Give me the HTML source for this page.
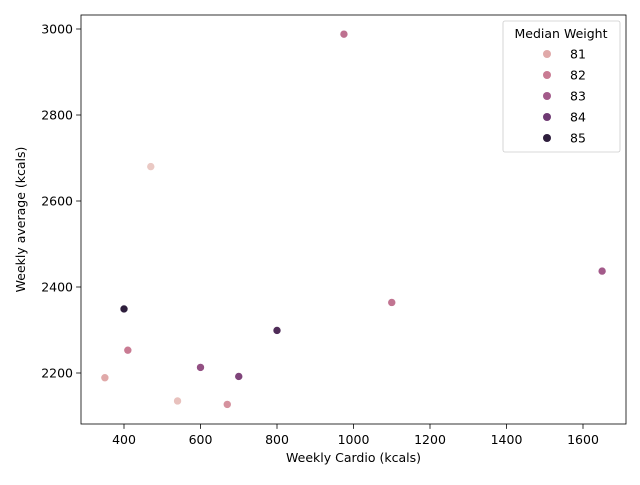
<!DOCTYPE html>
<html><head><meta charset="utf-8"><style>
body{margin:0;background:#fff;font-family:"Liberation Sans","DejaVu Sans",sans-serif;}
text{font-family:"DejaVu Sans","Liberation Sans",sans-serif;}
</style></head><body>
<svg id="chart" width="640" height="480" xmlns="http://www.w3.org/2000/svg"></svg>
<script>
const cardio=[975,470,1650,1100,400,800,410,600,700,350,540,670];
const avgKcal=[2988,2680,2437,2364,2349,2299,2253,2213,2192,2189,2135,2127];
const weight=[82.3,80.6,83,82.2,85,84.5,82,83.3,83.7,81,80.7,81.5];
const xTicks=[400,600,800,1000,1200,1400,1600];
const yTicks=[2200,2400,2600,2800,3000];
const legendVals=[81,82,83,84,85];
const NS="http://www.w3.org/2000/svg";
const svg=document.getElementById('chart');
const L=81,R=626,T=15,B=424;
const FS=12.5;
function sx(v){return 124+(v-400)*76.5/200;}
function sy(v){return 29+(3000-v)*86/200;}
const stops=[[80.5,[237,209,203]],[81,[224,169,169]],[82,[201,123,147]],[83,[163,90,138]],[84,[111,58,115]],[85,[46,30,60]]];
function col(w){
  if(w<=stops[0][0])return 'rgb('+stops[0][1]+')';
  for(let i=1;i<stops.length;i++){if(w<=stops[i][0]){const a=stops[i-1],b=stops[i],t=(w-a[0])/(b[0]-a[0]);return 'rgb('+a[1].map((c,k)=>Math.round(c+(b[1][k]-c)*t)).join(',')+')';}}
  return 'rgb('+stops[stops.length-1][1]+')';
}
function el(tag,attrs,txt){const e=document.createElementNS(NS,tag);for(const k in attrs)e.setAttribute(k,attrs[k]);if(txt!==undefined)e.textContent=txt;svg.appendChild(e);return e;}
let e=el('rect',{x:L,y:T,width:R-L,height:B-T,fill:'none',stroke:'#000','stroke-width':0.8});


xTicks.forEach(v=>{
  const x=sx(v);
  let t=el('line',{x1:x,x2:x,y1:B,y2:B+4.9,stroke:'#000','stroke-width':0.8});
  
  
  let l=el('text',{x:x,y:B+20,'text-anchor':'middle','font-size':FS},v);
  
  
});
yTicks.forEach(v=>{
  const y=sy(v);
  let t=el('line',{x1:L-4.9,x2:L,y1:y,y2:y,stroke:'#000','stroke-width':0.8});
  
  
  let l=el('text',{x:L-8,y:y+4.5,'text-anchor':'end','font-size':FS},v);
  
  
});
e=el('text',{x:(L+R)/2,y:462,'text-anchor':'middle','font-size':FS},'Weekly Cardio (kcals)');


e=el('text',{x:25,y:(T+B)/2,'text-anchor':'middle','font-size':FS,transform:'rotate(-90 25 '+(T+B)/2+')'},'Weekly average (kcals)');


cardio.forEach((c,i)=>{
  const p=el('circle',{cx:sx(c),cy:sy(avgKcal[i]),r:4,fill:col(weight[i]),stroke:'#fff','stroke-width':0.6});
  
  
});
e=el('rect',{x:503,y:21,width:117,height:131,rx:2,fill:'#fff','fill-opacity':0.8,stroke:'#ccc','stroke-width':0.8});


e=el('text',{x:561,y:38,'text-anchor':'middle','font-size':FS},'Median Weight');


legendVals.forEach((v,i)=>{
  const y=54+i*21;
  const m=el('circle',{cx:547,cy:y,r:4,fill:col(v)});
  
  
  const t=el('text',{x:570,y:y+4.5,'font-size':FS},v);
  
  
});
</script>
</body></html>
